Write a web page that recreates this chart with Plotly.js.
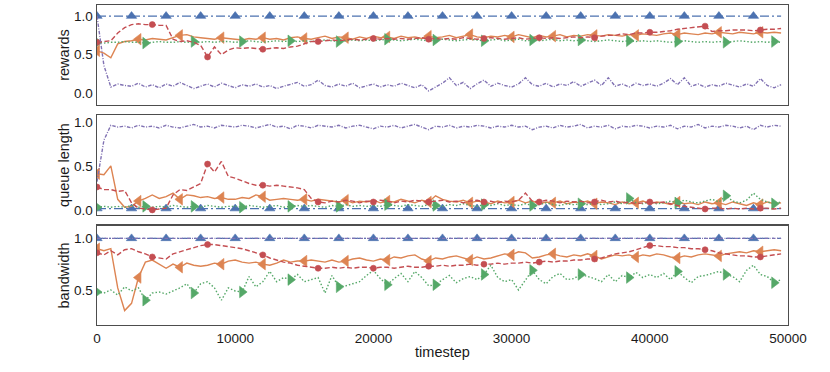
<!DOCTYPE html>
<html>
<head>
<meta charset="utf-8">
<script src="https://cdn.plot.ly/plotly-3.0.1.min.js"></script>
<style>
  html, body { margin: 0; padding: 0; background: #fff; }
  #chart { width: 830px; height: 372px; }
</style>
</head>
<body>
<div id="chart"></div>
<script>
// x values: one logged point every 500 timesteps
const timesteps = [
    0, 500, 1000, 1500, 2000, 2500, 3000, 3500, 4000, 4500,
    5000, 5500, 6000, 6500, 7000, 7500, 8000, 8500, 9000, 9500,
    10000, 10500, 11000, 11500, 12000, 12500, 13000, 13500, 14000, 14500,
    15000, 15500, 16000, 16500, 17000, 17500, 18000, 18500, 19000, 19500,
    20000, 20500, 21000, 21500, 22000, 22500, 23000, 23500, 24000, 24500,
    25000, 25500, 26000, 26500, 27000, 27500, 28000, 28500, 29000, 29500,
    30000, 30500, 31000, 31500, 32000, 32500, 33000, 33500, 34000, 34500,
    35000, 35500, 36000, 36500, 37000, 37500, 38000, 38500, 39000, 39500,
    40000, 40500, 41000, 41500, 42000, 42500, 43000, 43500, 44000, 44500,
    45000, 45500, 46000, 46500, 47000, 47500, 48000, 48500, 49000, 49500
];

// ---- rewards ----
const rewardsBlue = [
    1, 1, 1, 1, 1, 1, 1, 1, 1, 1, 1, 1, 1, 1, 1, 1, 1, 1, 1, 1,
    1, 1, 1, 1, 1, 1, 1, 1, 1, 1, 1, 1, 1, 1, 1, 1, 1, 1, 1, 1,
    1, 1, 1, 1, 1, 1, 1, 1, 1, 1, 1, 1, 1, 1, 1, 1, 1, 1, 1, 1,
    1, 1, 1, 1, 1, 1, 1, 1, 1, 1, 1, 1, 1, 1, 1, 1, 1, 1, 1, 1,
    1, 1, 1, 1, 1, 1, 1, 1, 1, 1, 1, 1, 1, 1, 1, 1, 1, 1, 1, 1
];
const rewardsOrange = [
    0.55, 0.52, 0.46, 0.64, 0.67, 0.68, 0.70, 0.69, 0.71, 0.70,
    0.69, 0.72, 0.75, 0.76, 0.73, 0.72, 0.71, 0.70, 0.72, 0.71,
    0.70, 0.69, 0.71, 0.70, 0.72, 0.70, 0.71, 0.69, 0.72, 0.73,
    0.71, 0.70, 0.72, 0.74, 0.71, 0.73, 0.72, 0.70, 0.73, 0.71,
    0.74, 0.72, 0.73, 0.71, 0.74, 0.72, 0.73, 0.71, 0.74, 0.72,
    0.73, 0.75, 0.72, 0.74, 0.76, 0.73, 0.72, 0.74, 0.73, 0.75,
    0.73, 0.76, 0.74, 0.72, 0.75, 0.73, 0.74, 0.76, 0.73, 0.75,
    0.74, 0.76, 0.75, 0.74, 0.76, 0.75, 0.74, 0.76, 0.75, 0.77,
    0.76, 0.75, 0.77, 0.78, 0.76, 0.78, 0.77, 0.76, 0.78, 0.77,
    0.79, 0.78, 0.77, 0.79, 0.78, 0.77, 0.79, 0.78, 0.79, 0.78
];
const rewardsGreen = [
    0.66, 0.65, 0.66, 0.66, 0.67, 0.66, 0.66, 0.65, 0.66, 0.67,
    0.66, 0.66, 0.67, 0.66, 0.67, 0.66, 0.67, 0.66, 0.67, 0.67,
    0.66, 0.67, 0.68, 0.67, 0.66, 0.67, 0.68, 0.67, 0.68, 0.67,
    0.68, 0.67, 0.68, 0.69, 0.68, 0.67, 0.68, 0.69, 0.68, 0.69,
    0.68, 0.69, 0.70, 0.69, 0.68, 0.69, 0.70, 0.69, 0.68, 0.69,
    0.70, 0.69, 0.68, 0.69, 0.70, 0.69, 0.68, 0.69, 0.70, 0.68,
    0.69, 0.70, 0.68, 0.69, 0.68, 0.69, 0.70, 0.68, 0.69, 0.68,
    0.69, 0.68, 0.67, 0.68, 0.69, 0.68, 0.67, 0.68, 0.67, 0.68,
    0.67, 0.68, 0.67, 0.66, 0.67, 0.68, 0.67, 0.66, 0.67, 0.66,
    0.67, 0.66, 0.67, 0.68, 0.67, 0.66, 0.67, 0.66, 0.67, 0.66
];
const rewardsRed = [
    0.66, 0.67, 0.68, 0.78, 0.85, 0.89, 0.90, 0.89, 0.89, 0.88,
    0.88, 0.70, 0.67, 0.68, 0.66, 0.62, 0.47, 0.60, 0.50, 0.56,
    0.59, 0.58, 0.59, 0.58, 0.57, 0.58, 0.59, 0.58, 0.60, 0.61,
    0.64, 0.67, 0.67, 0.68, 0.69, 0.68, 0.69, 0.70, 0.69, 0.70,
    0.71, 0.70, 0.71, 0.70, 0.71, 0.70, 0.71, 0.72, 0.70, 0.71,
    0.70, 0.71, 0.70, 0.72, 0.71, 0.70, 0.71, 0.72, 0.71, 0.70,
    0.71, 0.72, 0.70, 0.71, 0.72, 0.71, 0.72, 0.71, 0.72, 0.73,
    0.72, 0.73, 0.72, 0.74, 0.75, 0.75, 0.77, 0.76, 0.78, 0.78,
    0.79, 0.79, 0.80, 0.81, 0.83, 0.84, 0.85, 0.86, 0.87, 0.80,
    0.81, 0.81, 0.82, 0.82, 0.82, 0.81, 0.82, 0.83, 0.83, 0.84
];
const rewardsPurple = [
    1.00, 0.36, 0.08, 0.12, 0.10, 0.09, 0.13, 0.08, 0.11, 0.07,
    0.12, 0.09, 0.14, 0.10, 0.06, 0.09, 0.12, 0.08, 0.13, 0.10,
    0.07, 0.11, 0.09, 0.12, 0.08, 0.10, 0.06, 0.09, 0.12, 0.14,
    0.09, 0.11, 0.17, 0.10, 0.08, 0.12, 0.09, 0.13, 0.07, 0.10,
    0.12, 0.08, 0.11, 0.09, 0.13, 0.10, 0.07, 0.11, 0.03, 0.08,
    0.13, 0.20, 0.10, 0.14, 0.06, 0.12, 0.17, 0.09, 0.13, 0.10,
    0.08, 0.12, 0.20, 0.11, 0.09, 0.13, 0.08, 0.12, 0.10, 0.15,
    0.09, 0.13, 0.17, 0.10, 0.20, 0.09, 0.12, 0.08, 0.13, 0.10,
    0.12, 0.09, 0.13, 0.19, 0.11, 0.20, 0.09, 0.12, 0.08, 0.11,
    0.09, 0.13, 0.10, 0.08, 0.12, 0.09, 0.19, 0.10, 0.07, 0.11
];

// ---- queue length ----
const queueBlue = [
    0.015, 0.015, 0.015, 0.015, 0.015, 0.015, 0.015, 0.015, 0.015, 0.015,
    0.015, 0.015, 0.015, 0.015, 0.015, 0.015, 0.015, 0.015, 0.015, 0.015,
    0.015, 0.015, 0.015, 0.015, 0.015, 0.015, 0.015, 0.015, 0.015, 0.015,
    0.015, 0.015, 0.015, 0.015, 0.015, 0.015, 0.015, 0.015, 0.015, 0.015,
    0.015, 0.015, 0.015, 0.015, 0.015, 0.015, 0.015, 0.015, 0.015, 0.015,
    0.015, 0.015, 0.015, 0.015, 0.015, 0.015, 0.015, 0.015, 0.015, 0.015,
    0.015, 0.015, 0.015, 0.015, 0.015, 0.015, 0.015, 0.015, 0.015, 0.015,
    0.015, 0.015, 0.015, 0.015, 0.015, 0.015, 0.015, 0.015, 0.015, 0.015,
    0.015, 0.015, 0.015, 0.015, 0.015, 0.015, 0.015, 0.015, 0.015, 0.015,
    0.015, 0.015, 0.015, 0.015, 0.015, 0.015, 0.015, 0.015, 0.015, 0.015
];
const queueOrange = [
    0.41, 0.40, 0.50, 0.12, 0.03, 0.04, 0.10, 0.13, 0.17, 0.13,
    0.15, 0.19, 0.12, 0.17, 0.16, 0.14, 0.15, 0.13, 0.14, 0.12,
    0.12, 0.14, 0.13, 0.17, 0.15, 0.11, 0.12, 0.13, 0.12, 0.11,
    0.12, 0.10, 0.12, 0.11, 0.10, 0.09, 0.11, 0.08, 0.10, 0.09,
    0.11, 0.08, 0.10, 0.09, 0.12, 0.10, 0.08, 0.11, 0.09, 0.16,
    0.12, 0.10, 0.09, 0.11, 0.08, 0.10, 0.09, 0.07, 0.10, 0.08,
    0.09, 0.11, 0.08, 0.10, 0.07, 0.09, 0.08, 0.10, 0.07, 0.09,
    0.08, 0.10, 0.07, 0.09, 0.08, 0.06, 0.09, 0.07, 0.08, 0.10,
    0.07, 0.09, 0.08, 0.06, 0.09, 0.07, 0.08, 0.06, 0.09, 0.07,
    0.08, 0.06, 0.09, 0.07, 0.05, 0.08, 0.06, 0.09, 0.07, 0.08
];
const queueGreen = [
    0.03, 0.04, 0.03, 0.04, 0.03, 0.05, 0.03, 0.04, 0.03, 0.04,
    0.03, 0.05, 0.04, 0.03, 0.04, 0.03, 0.05, 0.04, 0.03, 0.04,
    0.04, 0.03, 0.05, 0.04, 0.03, 0.04, 0.05, 0.03, 0.04, 0.05,
    0.04, 0.05, 0.04, 0.03, 0.05, 0.04, 0.06, 0.04, 0.05, 0.04,
    0.05, 0.04, 0.06, 0.05, 0.04, 0.06, 0.05, 0.04, 0.06, 0.05,
    0.04, 0.06, 0.05, 0.07, 0.05, 0.04, 0.06, 0.05, 0.07, 0.05,
    0.06, 0.05, 0.07, 0.05, 0.06, 0.08, 0.06, 0.05, 0.07, 0.06,
    0.07, 0.06, 0.08, 0.06, 0.07, 0.09, 0.07, 0.13, 0.08, 0.07,
    0.09, 0.07, 0.08, 0.10, 0.08, 0.11, 0.09, 0.08, 0.10, 0.12,
    0.09, 0.16, 0.10, 0.08, 0.11, 0.19, 0.12, 0.09, 0.07, 0.09
];
const queueRed = [
    0.26, 0.23, 0.23, 0.21, 0.22, 0.08, 0.02, 0.01, 0.00, 0.01,
    0.02, 0.17, 0.23, 0.22, 0.26, 0.30, 0.52, 0.43, 0.55, 0.38,
    0.36, 0.33, 0.30, 0.28, 0.28, 0.27, 0.28, 0.27, 0.26, 0.25,
    0.23, 0.13, 0.09, 0.08, 0.10, 0.09, 0.11, 0.10, 0.08, 0.10,
    0.09, 0.11, 0.10, 0.08, 0.10, 0.09, 0.11, 0.10, 0.09, 0.10,
    0.11, 0.09, 0.10, 0.08, 0.10, 0.11, 0.09, 0.10, 0.08, 0.10,
    0.09, 0.11, 0.19, 0.10, 0.09, 0.11, 0.10, 0.08, 0.10, 0.09,
    0.10, 0.08, 0.09, 0.11, 0.09, 0.10, 0.08, 0.09, 0.07, 0.08,
    0.09, 0.08, 0.09, 0.07, 0.05, 0.04, 0.03, 0.02, 0.01, 0.02,
    0.02, 0.01, 0.02, 0.01, 0.02, 0.01, 0.02, 0.02, 0.01, 0.02
];
const queuePurple = [
    0.32, 0.79, 0.96, 0.94, 0.95, 0.93, 0.96, 0.94, 0.95, 0.93,
    0.96, 0.94, 0.93, 0.95, 0.97, 0.94, 0.95, 0.93, 0.96, 0.95,
    0.94, 0.96, 0.95, 0.93, 0.95, 0.97, 0.94, 0.95, 0.92, 0.96,
    0.95, 0.93, 0.96, 0.95, 0.94, 0.96, 0.93, 0.95, 0.96, 0.94,
    0.92, 0.95, 0.94, 0.96, 0.93, 0.95, 0.97, 0.94, 0.91, 0.95,
    0.94, 0.96, 0.93, 0.95, 0.94, 0.96, 0.95, 0.93, 0.95, 0.94,
    0.96, 0.94, 0.95, 0.91, 0.94, 0.95, 0.93, 0.96, 0.94, 0.95,
    0.97, 0.93, 0.95, 0.94, 0.96, 0.92, 0.95, 0.94, 0.96, 0.95,
    0.93, 0.95, 0.94, 0.96, 0.92, 0.95, 0.94, 0.97, 0.93, 0.95,
    0.94, 0.96, 0.95, 0.93, 0.95, 0.91, 0.96, 0.94, 0.96, 0.95
];

// ---- bandwidth ----
const bandwidthBlue = [
    1, 1, 1, 1, 1, 1, 1, 1, 1, 1, 1, 1, 1, 1, 1, 1, 1, 1, 1, 1,
    1, 1, 1, 1, 1, 1, 1, 1, 1, 1, 1, 1, 1, 1, 1, 1, 1, 1, 1, 1,
    1, 1, 1, 1, 1, 1, 1, 1, 1, 1, 1, 1, 1, 1, 1, 1, 1, 1, 1, 1,
    1, 1, 1, 1, 1, 1, 1, 1, 1, 1, 1, 1, 1, 1, 1, 1, 1, 1, 1, 1,
    1, 1, 1, 1, 1, 1, 1, 1, 1, 1, 1, 1, 1, 1, 1, 1, 1, 1, 1, 1
];
const bandwidthOrange = [
    0.90, 0.88, 0.90, 0.52, 0.30, 0.37, 0.62, 0.77, 0.79, 0.75,
    0.71, 0.75, 0.72, 0.76, 0.74, 0.73, 0.74, 0.76, 0.75, 0.78,
    0.79, 0.77, 0.76, 0.77, 0.75, 0.74, 0.76, 0.79, 0.77, 0.78,
    0.78, 0.79, 0.78, 0.77, 0.79, 0.77, 0.78, 0.80, 0.81, 0.79,
    0.78, 0.80, 0.79, 0.82, 0.81, 0.83, 0.84, 0.80, 0.78, 0.81,
    0.80, 0.82, 0.83, 0.81, 0.79, 0.82, 0.80, 0.81, 0.83, 0.85,
    0.84, 0.87, 0.86, 0.81, 0.82, 0.84, 0.85, 0.83, 0.82, 0.84,
    0.83, 0.85, 0.83, 0.80, 0.82, 0.84, 0.83, 0.84, 0.82, 0.84,
    0.83, 0.85, 0.84, 0.82, 0.81, 0.83, 0.82, 0.84, 0.85, 0.84,
    0.83, 0.85, 0.86, 0.87, 0.86, 0.88, 0.87, 0.88, 0.89, 0.88
];
const bandwidthGreen = [
    0.48, 0.47, 0.50, 0.45, 0.53, 0.49, 0.52, 0.40, 0.47, 0.48,
    0.46, 0.49, 0.52, 0.56, 0.47, 0.56, 0.58, 0.52, 0.40, 0.52,
    0.49, 0.48, 0.63, 0.53, 0.58, 0.68, 0.58, 0.62, 0.60, 0.65,
    0.58, 0.60, 0.62, 0.47, 0.64, 0.53, 0.54, 0.56, 0.58, 0.64,
    0.69, 0.61, 0.55, 0.61, 0.66, 0.58, 0.68, 0.62, 0.54, 0.55,
    0.60, 0.64, 0.57, 0.61, 0.63, 0.60, 0.65, 0.74, 0.62, 0.58,
    0.60, 0.50, 0.60, 0.69, 0.60, 0.56, 0.63, 0.66, 0.60, 0.61,
    0.65, 0.63, 0.61, 0.58, 0.65, 0.58, 0.64, 0.62, 0.67, 0.62,
    0.65, 0.62, 0.66, 0.60, 0.68, 0.62, 0.57, 0.63, 0.64, 0.66,
    0.68, 0.65, 0.63, 0.58, 0.69, 0.74, 0.65, 0.63, 0.57, 0.60
];
const bandwidthRed = [
    0.86, 0.84, 0.88, 0.84, 0.89, 0.90, 0.87, 0.85, 0.82, 0.81,
    0.80, 0.85, 0.87, 0.89, 0.91, 0.93, 0.94, 0.94, 0.93, 0.92,
    0.91, 0.90, 0.88, 0.86, 0.84, 0.81, 0.79, 0.77, 0.76, 0.74,
    0.73, 0.72, 0.71, 0.71, 0.72, 0.71, 0.72, 0.71, 0.72, 0.72,
    0.71, 0.72, 0.72, 0.71, 0.72, 0.73, 0.72, 0.72, 0.73, 0.73,
    0.74, 0.73, 0.74, 0.74, 0.75, 0.74, 0.75, 0.75, 0.76, 0.75,
    0.76, 0.76, 0.77, 0.76, 0.77, 0.78, 0.77, 0.78, 0.78, 0.79,
    0.79, 0.80, 0.80, 0.81, 0.83, 0.85, 0.86, 0.87, 0.89, 0.91,
    0.93, 0.93, 0.92, 0.92, 0.91, 0.91, 0.90, 0.90, 0.89, 0.88,
    0.86, 0.85, 0.84, 0.83, 0.83, 0.82, 0.82, 0.83, 0.84, 0.85
];
const bandwidthPurple = bandwidthBlue.slice();

const xTicks = [0, 10000, 20000, 30000, 40000, 50000];

// line styles, one per series (seaborn "deep" colours)
const styles = {
    blue:   { color: '#4C72B0', dash: '9px,3px,2px,3px', symbol: 'triangle-up', size: 9, every: 5 },
    orange: { color: '#DD8452', dash: 'solid', symbol: 'triangle-left', size: 10, every: 6 },
    green:  { color: '#55A868', dash: '1.5px,2px', symbol: 'triangle-right', size: 10, every: 7 },
    red:    { color: '#C44E52', dash: '5px,2.5px', symbol: 'circle', size: 6, every: 8 },
    purple: { color: '#8172B3', dash: '3.5px,1.5px,1px,1.5px', symbol: 'circle', size: 0, every: 0 }
};

const panels = [
    { xa: 'x', ya: 'y', series: { blue: rewardsBlue, orange: rewardsOrange, green: rewardsGreen, red: rewardsRed, purple: rewardsPurple } },
    { xa: 'x2', ya: 'y2', series: { blue: queueBlue, orange: queueOrange, green: queueGreen, red: queueRed, purple: queuePurple } },
    { xa: 'x3', ya: 'y3', series: { blue: bandwidthBlue, orange: bandwidthOrange, green: bandwidthGreen, red: bandwidthRed, purple: bandwidthPurple } }
];

// marker on every n-th point (like matplotlib markevery=n)
function markerSizes(n, every, size) {
    const sizes = [];
    for (let i = 0; i < n; i++) {
        sizes.push(every > 0 && i % every === 0 ? size : 0);
    }
    return sizes;
}

const traces = [];
panels.forEach(panel => {
    ['blue', 'orange', 'green', 'red', 'purple'].forEach(key => {
        const st = styles[key];
        const ys = panel.series[key];
        traces.push({
            type: 'scatter',
            mode: st.every > 0 ? 'lines+markers' : 'lines',
            x: timesteps,
            y: ys,
            xaxis: panel.xa,
            yaxis: panel.ya,
            line: { color: st.color, width: 1.4, dash: st.dash },
            marker: {
                symbol: st.symbol,
                color: st.color,
                opacity: 1,
                size: markerSizes(ys.length, st.every, st.size),
                line: { width: 0.6, color: st.color }
            },
            hoverinfo: 'skip',
            showlegend: false
        });
    });
});

const tickFont = { family: 'Liberation Sans, Arial, sans-serif', size: 13.5, color: '#1a1a1a' };
const titleFont = { family: 'Liberation Sans, Arial, sans-serif', size: 14.5, color: '#1a1a1a' };

const frame = {
    showline: true,
    mirror: true,
    linecolor: '#4d4d4d',
    linewidth: 1.4,
    showgrid: false,
    zeroline: false,
    ticks: '',
    tickfont: tickFont
};

const xBase = Object.assign({}, frame, { range: [0, 50000], domain: [0, 1], tickvals: xTicks, tickformat: 'd' });

const layout = {
    width: 830,
    height: 372,
    margin: { l: 97, r: 42, t: 5, b: 47 },
    paper_bgcolor: '#ffffff',
    plot_bgcolor: '#ffffff',
    showlegend: false,
    font: tickFont,
    xaxis: Object.assign({}, xBase, { anchor: 'y', showticklabels: false }),
    xaxis2: Object.assign({}, xBase, { anchor: 'y2', showticklabels: false }),
    xaxis3: Object.assign({}, xBase, { anchor: 'y3', title: { text: 'timestep', font: titleFont, standoff: 2 } }),
    yaxis: Object.assign({}, frame, {
        anchor: 'x', domain: [0.6875, 1], range: [-0.153, 1.144],
        tickvals: [0, 0.5, 1], tickformat: '.1f', title: { text: 'rewards', font: titleFont, standoff: 1 }
    }),
    yaxis2: Object.assign({}, frame, {
        anchor: 'x2', domain: [0.344, 0.656], range: [-0.057, 1.076],
        tickvals: [0, 0.5, 1], tickformat: '.1f', title: { text: 'queue length', font: titleFont, standoff: 1 }
    }),
    yaxis3: Object.assign({}, frame, {
        anchor: 'x3', domain: [0, 0.31], range: [0.16, 1.122],
        tickvals: [0.5, 1], tickformat: '.1f', title: { text: 'bandwidth', font: titleFont, standoff: 1 }
    })
};

Plotly.newPlot('chart', traces, layout, { displayModeBar: false, staticPlot: true });
</script>
</body>
</html>
